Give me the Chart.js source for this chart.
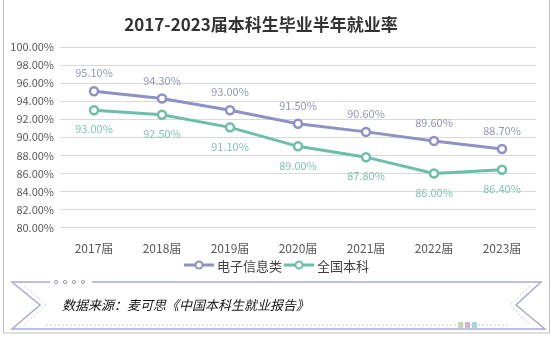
<!DOCTYPE html>
<html>
<head>
<meta charset="utf-8">
<script src="https://cdn.jsdelivr.net/npm/chart.js@4/dist/chart.umd.min.js"></script>
<style>
  html, body { margin: 0; padding: 0; background: #fff; }
  #wrap { width: 556px; height: 338px; position: relative; }
</style>
</head>
<body>
<div id="wrap"><canvas id="chart" width="556" height="338"></canvas></div>
<script>
// data
const years = ["2017届", "2018届", "2019届", "2020届", "2021届", "2022届", "2023届"];
const dianzi = [95.1, 94.3, 93.0, 91.5, 90.6, 89.6, 88.7];
const quanguo = [93.0, 92.5, 91.1, 89.0, 87.8, 86.0, 86.4];
const seriesNames = ["电子信息类", "全国本科"];
const chartTitle = "2017-2023届本科生毕业半年就业率";
const sourceText = "数据来源：麦可思《中国本科生就业报告》";

const blue = "#8f91c4";
const green = "#6dbea8";
const blueLabel = "#9296b8";
const greenLabel = "#7fc3b3";
const FONT = "'Noto Sans CJK SC', 'Noto Sans', sans-serif";

// ================================
// frame, title, legend, source ribbon
// ================================
const decor = {
  id: "decor",
  afterDraw(chart) {
    const ctx = chart.ctx;
    ctx.save();

    // outer frame
    ctx.strokeStyle = "#bfbfbf";
    ctx.lineWidth = 1;
    ctx.strokeRect(3.5, -1, 546, 334);

    // title
    ctx.fillStyle = "#333";
    ctx.font = "bold 17px " + FONT;
    ctx.textAlign = "center";
    ctx.textBaseline = "middle";
    ctx.fillText(chartTitle, 261, 25);

    // data labels
    ctx.font = "11px " + FONT;
    [[0, blueLabel, -18], [1, greenLabel, 19]].forEach(([i, col, dy]) => {
      const meta = chart.getDatasetMeta(i);
      ctx.fillStyle = col;
      meta.data.forEach((pt, j) => {
        const v = chart.data.datasets[i].data[j];
        ctx.fillText(v.toFixed(2) + "%", pt.x, pt.y + dy);
      });
    });

    // legend
    const ly = 265;
    const items = [[seriesNames[0], blue], [seriesNames[1], green]];
    ctx.font = "13px " + FONT;
    ctx.textAlign = "left";
    let lx = 184;
    items.forEach(([name, col]) => {
      ctx.strokeStyle = col;
      ctx.lineWidth = 3;
      ctx.beginPath();
      ctx.moveTo(lx, ly);
      ctx.lineTo(lx + 30, ly);
      ctx.stroke();
      ctx.fillStyle = "#fff";
      ctx.lineWidth = 2;
      ctx.beginPath();
      ctx.arc(lx + 15, ly, 3.5, 0, Math.PI * 2);
      ctx.fill();
      ctx.stroke();
      ctx.fillStyle = "#404040";
      ctx.fillText(name, lx + 33, ly + 1);
      lx += 33 + ctx.measureText(name).width + 2;
    });

    // ribbon
    ctx.strokeStyle = "#a9aad2";
    ctx.lineWidth = 1.5;
    ctx.beginPath();
    ctx.moveTo(12, 282);
    ctx.lineTo(541, 282);
    ctx.lineTo(516, 305);
    ctx.lineTo(545, 329);
    ctx.lineTo(12, 329);
    ctx.lineTo(40, 305);
    ctx.closePath();
    ctx.stroke();

    ctx.setLineDash([2, 2]);
    ctx.strokeStyle = "#c8c9e2";
    ctx.lineWidth = 1;
    ctx.beginPath();
    ctx.moveTo(24, 286);
    ctx.lineTo(46, 305);
    ctx.lineTo(24, 325);
    ctx.moveTo(530, 286);
    ctx.lineTo(510, 305);
    ctx.lineTo(530, 325);
    ctx.moveTo(46, 325);
    ctx.lineTo(510, 325);
    ctx.stroke();
    ctx.setLineDash([]);

    // small dots on top edge
    ctx.fillStyle = "#fff";
    ctx.fillRect(50, 280, 42, 4);
    ctx.strokeStyle = "#9a9ab8";
    for (let k = 0; k < 4; k++) {
      ctx.beginPath();
      ctx.arc(56 + k * 9, 282, 1.6, 0, Math.PI * 2);
      ctx.stroke();
    }

    // little squares bottom right
    ["#c9d7a8", "#d2b4d2", "#a9d6d8"].forEach((c, k) => {
      ctx.fillStyle = c;
      ctx.fillRect(458 + k * 7, 322, 5, 6);
    });

    // source text
    ctx.fillStyle = "#111";
    ctx.font = "italic 13px " + FONT;
    ctx.textAlign = "left";
    ctx.fillText(sourceText, 62, 305);

    ctx.restore();
  }
};

new Chart(document.getElementById("chart"), {
  type: "line",
  data: {
    labels: years,
    datasets: [
      {
        label: seriesNames[0],
        data: dianzi,
        borderColor: blue,
        backgroundColor: "#fff",
        borderWidth: 3,
        pointRadius: 4,
        pointBorderWidth: 2.5,
        pointBackgroundColor: "#fff",
        tension: 0
      },
      {
        label: seriesNames[1],
        data: quanguo,
        borderColor: green,
        backgroundColor: "#fff",
        borderWidth: 3,
        pointRadius: 4,
        pointBorderWidth: 2.5,
        pointBackgroundColor: "#fff",
        tension: 0
      }
    ]
  },
  options: {
    responsive: false,
    animation: false,
    layout: { padding: { top: 47, bottom: 76, left: 0, right: 20 } },
    plugins: {
      legend: { display: false },
      title: { display: false },
      tooltip: { enabled: false }
    },
    scales: {
      x: {
        offset: true,
        grid: { display: false },
        border: { display: false },
        ticks: { color: "#595959", font: { size: 12, family: FONT }, padding: 6 }
      },
      y: {
        min: 80,
        max: 100,
        afterFit(scale) { scale.width = 60; },
        ticks: {
          stepSize: 2,
          color: "#595959",
          font: { size: 11, family: FONT },
          padding: 6,
          callback: (v) => v.toFixed(2) + "%"
        },
        grid: { color: "#d9d9d9", drawTicks: false },
        border: { display: false }
      }
    }
  },
  plugins: [decor]
});
</script>
</body>
</html>
